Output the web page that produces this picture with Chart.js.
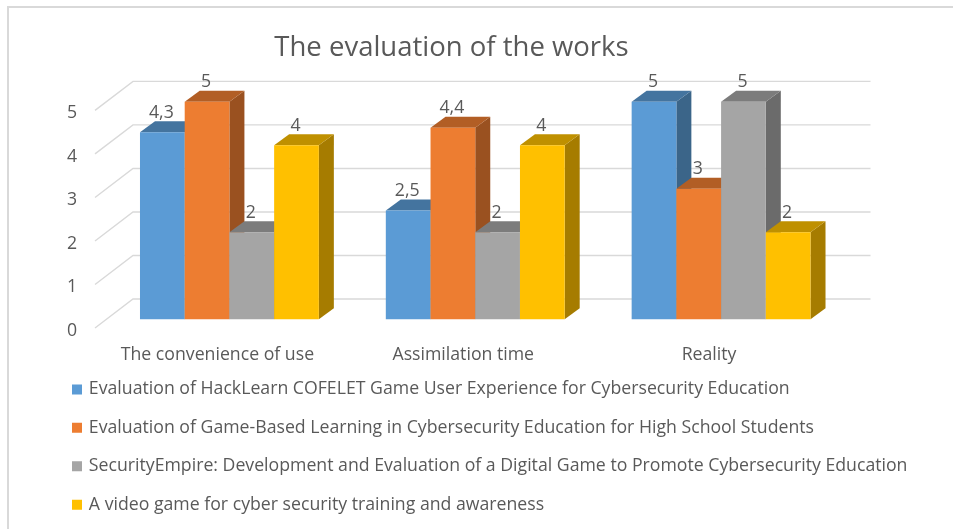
<!DOCTYPE html>
<html><head><meta charset="utf-8">
<style>html,body{margin:0;padding:0;background:#fff}#w{width:953px;height:529px;position:relative}#c{filter:blur(0.35px)}</style>
<script src="https://cdn.jsdelivr.net/npm/chart.js@4"></script></head>
<body><div id="w"><canvas id="c" width="953" height="529"></canvas></div>
<script>
const chartTitle = "The evaluation of the works";
const categories = ["The convenience of use", "Assimilation time", "Reality"];
const seriesNames = [
  "Evaluation of HackLearn COFELET Game User Experience for Cybersecurity Education",
  "Evaluation of Game-Based Learning in Cybersecurity Education for High School Students",
  "SecurityEmpire: Development and Evaluation of a Digital Game to Promote Cybersecurity Education",
  "A video game for cyber security training and awareness"
];
const hackLearn = [4.3, 2.5, 5];
const gameBased = [5, 4.4, 3];
const securityEmpire = [2, 2, 5];
const videoGame = [4, 4, 2];
const seriesValues = [hackLearn, gameBased, securityEmpire, videoGame];
const frontColors = ["#5B9BD5", "#ED7D31", "#A5A5A5", "#FFC000"];
const topColors = ["#44749F", "#B25E25", "#7C7C7C", "#BF9000"];
const sideColors = ["#3B6589", "#9A5120", "#6B6B6B", "#A67C00"];
const yTicks = [0, 1, 2, 3, 4, 5];

const FONT = "'Open Sans'";
const TEXT = "#595959";
const SIZE = 17.7;
const fmt = v => String(v).replace(".", ",");

const threeD = {
  id: "threeD",
  beforeDatasetsDraw(chart) {
    const {ctx, scales: {y}, chartArea: a} = chart;
    ctx.save();
    ctx.strokeStyle = "#D9D9D9";
    ctx.lineWidth = 1.4;
    yTicks.forEach(v => {
      const p = y.getPixelForValue(v);
      ctx.beginPath();
      ctx.moveTo(a.left - 11.5, p + 8.7);
      ctx.lineTo(a.left + 26.5, p - 20.3);
      ctx.lineTo(a.right + 26.5, p - 20.3);
      ctx.stroke();
    });
    ctx.restore();
  },
  beforeDatasetDraw() { return false; },
  afterDatasetsDraw(chart) {
    const {ctx} = chart;
    const dx = 15, dy = 11;
    chart.data.datasets.forEach((ds, i) => {
      chart.getDatasetMeta(i).data.forEach(bar => {
        const {x, y, base, width} = bar.getProps(["x", "y", "base", "width"], true);
        const l = x - width / 2, r = x + width / 2;
        ctx.save();
        ctx.fillStyle = sideColors[i];
        ctx.beginPath();
        ctx.moveTo(r, y); ctx.lineTo(r + dx, y - dy); ctx.lineTo(r + dx, base - dy); ctx.lineTo(r, base);
        ctx.closePath(); ctx.fill();
        ctx.fillStyle = topColors[i];
        ctx.beginPath();
        ctx.moveTo(l, y); ctx.lineTo(l + dx, y - dy); ctx.lineTo(r + dx, y - dy); ctx.lineTo(r, y);
        ctx.closePath(); ctx.fill();
        ctx.restore();
        bar.draw(ctx);
      });
    });
    ctx.save();
    ctx.fillStyle = TEXT;
    ctx.font = SIZE + "px " + FONT;
    ctx.textAlign = "center";
    ctx.textBaseline = "middle";
    chart.data.datasets.forEach((ds, i) => {
      chart.getDatasetMeta(i).data.forEach((bar, j) => {
        const {x, y} = bar.getProps(["x", "y"], true);
        ctx.fillText(fmt(ds.data[j]), x - 1, y - 19.5);
      });
    });
    ctx.restore();
  },
  afterLayout(chart) {
    chart.titleBlock.left -= 25;
    chart.titleBlock.right -= 25;
    chart.legend.left += 53.3;
    chart.legend.top -= 5.5;
  },
  beforeDraw(chart) {
    const {ctx, width, height} = chart;
    ctx.save();
    ctx.strokeStyle = "#D9D9D9";
    ctx.lineWidth = 2;
    ctx.beginPath();
    ctx.moveTo(8, height);
    ctx.lineTo(8, 7);
    ctx.lineTo(width, 7);
    ctx.stroke();
    ctx.restore();
  }
};

new Chart(document.getElementById("c"), {
  type: "bar",
  data: {
    labels: categories,
    datasets: seriesNames.map((n, i) => ({
      label: n,
      data: seriesValues[i],
      backgroundColor: frontColors[i],
      borderWidth: 0,
      barPercentage: 1,
      categoryPercentage: 0.7276
    }))
  },
  plugins: [threeD],
  options: {
    responsive: false,
    animation: false,
    plugins: {
      title: {display: true, text: chartTitle, color: TEXT, font: {family: FONT, size: 27.5, weight: "normal"}, padding: {top: 32, bottom: 36.7}},
      legend: {
        position: "bottom", align: "start",
        labels: {color: TEXT, font: {family: FONT, size: SIZE}, boxWidth: 6, boxHeight: 6, padding: 20.7,
          generateLabels(chart) {
            return chart.data.datasets.map((d, i) => ({text: d.label, fillStyle: frontColors[i], strokeStyle: frontColors[i], lineWidth: 4, fontColor: TEXT, datasetIndex: i}));
          }}
      },
      tooltip: {enabled: false}
    },
    scales: {
      x: {
        grid: {display: false}, border: {display: false},
        ticks: {color: TEXT, font: {family: FONT, size: SIZE}, labelOffset: -12, padding: 17.5, maxRotation: 0},
        afterFit(s) { s.height = 529 - 319.3 - s.chart.legend.height; }
      },
      y: {
        min: 0, max: 5,
        afterBuildTicks(s) { s.ticks = yTicks.map(v => ({value: v})); },
        grid: {display: false}, border: {display: false},
        ticks: {color: TEXT, font: {family: FONT, size: SIZE}, labelOffset: 11.5, padding: 21.5},
        afterFit(s) { s.width = 106.5; }
      },
      y2: {
        position: "right", min: 0, max: 5,
        grid: {display: false}, border: {display: false},
        ticks: {display: false},
        afterFit(s) { s.width = 109; }
      }
    }
  }
});
</script></body></html>
